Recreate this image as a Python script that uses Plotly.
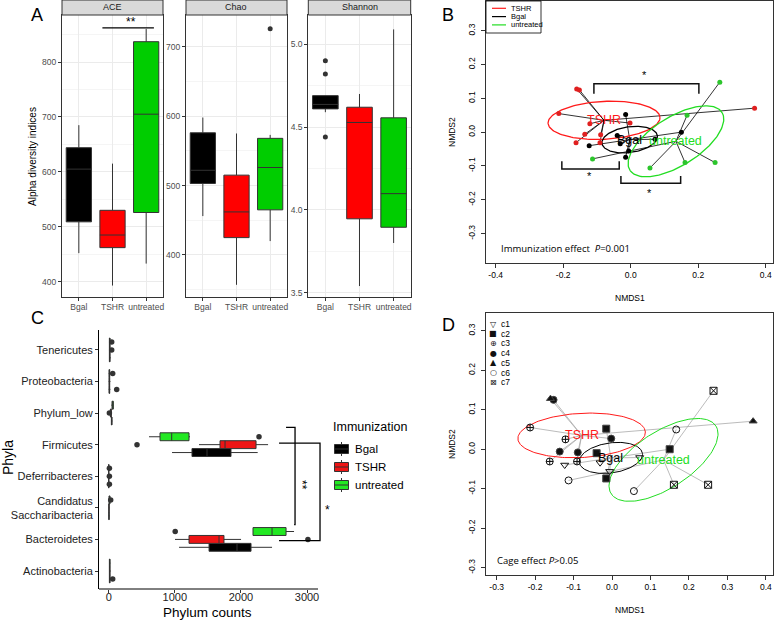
import numpy as np
import plotly.graph_objects as go

W, H = 778, 620
FONT = "Liberation Sans"

groups = ["Bgal", "TSHR", "untreated"]

# ---- panel A: alpha diversity, box stats per group (low whisker, Q1, median, Q3, high whisker)
ace_low = [452, 393, 433]
ace_q1 = [509, 462, 526]
ace_med = [605, 485, 705]
ace_q3 = [644, 530, 837]
ace_high = [685, 615, 860]
ace_out_grp = []
ace_out_val = []
ace_sig = [0.7, 2.23, 862]   # bar from, bar to, height

chao_low = [456, 357, 420]
chao_q1 = [503, 425, 465]
chao_med = [522, 462, 526]
chao_q3 = [576, 515, 568]
chao_high = [598, 575, 573]
chao_out_grp = ["untreated"]
chao_out_val = [726]

shan_low = [4.59, 3.54, 3.80]
shan_q1 = [4.61, 3.946, 3.895]
shan_med = [4.637, 4.528, 4.098]
shan_q3 = [4.69, 4.62, 4.556]
shan_high = [4.69, 4.70, 5.09]
shan_out_grp = ["Bgal", "Bgal", "Bgal"]
shan_out_val = [4.90, 4.82, 4.44]

# ---- panel C: phylum counts (bottom to top)
phyla = ["Actinobacteria", "Bacteroidetes", "Candidatus<br>Saccharibacteria", "Deferribacteres",
         "Firmicutes", "Phylum_low", "Proteobacteria", "Tenericutes"]
# per group: low, q1, median, q3, high for every phylum
c_bgal = [[5, 10, 15, 20, 30], [1064, 1518, 1941, 2153, 2471], [0, 2, 4, 6, 10], [0, 0, 0, 0, 0],
          [958, 1260, 1487, 1850, 2254], [35, 40, 45, 50, 55], [0, 5, 10, 15, 25], [5, 10, 15, 20, 30]]
c_tshr = [[5, 10, 15, 20, 30], [1003, 1215, 1669, 1744, 2002], [0, 2, 4, 6, 10], [0, 0, 0, 0, 0],
          [1366, 1684, 1760, 2229, 2411], [20, 25, 30, 40, 45], [0, 5, 10, 15, 25], [5, 10, 15, 20, 30]]
c_untr = [[5, 10, 15, 20, 25], [2183, 2183, 2471, 2683, 2804], [0, 5, 10, 20, 30], [0, 0, 0, 0, 0],
          [610, 776, 953, 1215, 1230], [40, 50, 60, 70, 75], [0, 5, 10, 15, 25], [5, 10, 15, 20, 30]]
c_out_phylum = ["Actinobacteria", "Bacteroidetes", "Bacteroidetes", "Candidatus<br>Saccharibacteria",
                "Deferribacteres", "Deferribacteres", "Deferribacteres", "Firmicutes", "Firmicutes",
                "Phylum_low", "Proteobacteria", "Proteobacteria", "Tenericutes", "Tenericutes"]
c_out_grp = ["Bgal", "TSHR", "untreated", "untreated", "Bgal", "TSHR", "untreated", "TSHR", "untreated",
             "TSHR", "Bgal", "untreated", "TSHR", "untreated"]
c_out_val = [60, 3014, 1006, 30, 10, 10, 10, 428, 2274, 10, 121, 60, 45, 45]
c_br_x = [[2683, 2819, 2819, 2805], [2577, 3197, 3197, 2577]]
c_br_y = [[4.55, 4.55, 1.47, 1.47], [4.05, 4.05, 0.96, 0.96]]
c_star_txt = ["**", "*"]
c_star_x = [2935, 3307]
c_star_y = [2.73, 1.94]

# ---- panels B and D: NMDS scores
nmds1 = [-0.160, -0.152, -0.213, -0.121, -0.136, -0.162, -0.089, -0.091, -0.002, 0.367,
         -0.015, -0.040, -0.031, -0.123, -0.015, 0.150, -0.006, 0.072,
         0.264, 0.167, -0.113, 0.057, 0.161, 0.250]
nmds2 = [0.128, 0.125, 0.055, 0.025, -0.006, -0.031, -0.008, -0.031, 0.027, 0.071,
         0.052, -0.010, -0.034, -0.040, -0.074, 0.000, -0.056, -0.021,
         0.148, 0.050, -0.079, -0.106, -0.090, -0.090]
immun = ["TSHR"] * 10 + ["Bgal"] * 8 + ["untreated"] * 6
cage = ["c5", "c4", "c3", "c3", "c4", "c3", "c4", "c3", "c4", "c5",
        "c2", "c2", "c1", "c1", "c2", "c2", "c1", "c1",
        "c7", "c6", "c6", "c6", "c7", "c7"]
cent_grp = ["TSHR", "Bgal", "untreated"]
cent_x = [-0.079, -0.003, 0.134]
cent_y = [0.035, -0.022, -0.027]
ell_a = [0.166, 0.083, 0.161]
ell_b = [0.056, 0.038, 0.072]
ell_ang = [3, 8, 32]
b_br_x0 = [-0.109, -0.204, -0.029]
b_br_x1 = [0.202, -0.034, 0.148]
b_br_y = [0.143, -0.109, -0.151]
b_br_tip = [0.114, -0.086, -0.130]
b_star_x = [0.040, -0.121, 0.055]
b_star_y = [0.168, -0.131, -0.181]

cages = ["c1", "c2", "c3", "c4", "c5", "c6", "c7"]
cage_sym = ["triangle-down-open", "square", "circle-cross-open", "circle", "triangle-up",
            "circle-open", "square-x-open"]
cage_glyph = ["\u25BD", "\u25A0", "\u2295", "\u25CF", "\u25B2", "\u25CB", "\u22A0"]

a_fill = {"Bgal": "#000000", "TSHR": "#FF0000", "untreated": "#00CD00"}
c_fill = {"Bgal": "#000000", "TSHR": "#EE1515", "untreated": "#22E822"}
nm_col = {"TSHR": "#E02020", "Bgal": "#000000", "untreated": "#2CC52C"}
ell_col = {"TSHR": "#FF1A1A", "Bgal": "#000000", "untreated": "#22DD22"}


def hx(p):
    return p / W


def hy(p):
    return 1 - p / H


ann = []
shp = []


def pann(text, px, py, size, color="#000000", xa="center", angle=0, family=None):
    f = dict(size=size, color=color)
    if family:
        f["family"] = family
    ann.append(dict(x=hx(px), y=hy(py), xref="paper", yref="paper", text=text, showarrow=False,
                    xanchor=xa, yanchor="middle", textangle=angle, font=f))


fig = go.Figure()
lay = {}

# ---------------- panel A ----------------
facets = [
    ("ACE", [ace_low, ace_q1, ace_med, ace_q3, ace_high], ace_out_grp, ace_out_val,
     (62, 163), [371.6, 885.6], 100, 50, "d"),
    ("Chao", [chao_low, chao_q1, chao_med, chao_q3, chao_high], chao_out_grp, chao_out_val,
     (186, 287), [339, 745.7], 100, 50, "d"),
    ("Shannon", [shan_low, shan_q1, shan_med, shan_q3, shan_high], shan_out_grp, shan_out_val,
     (308.3, 410.7), [3.472, 5.177], 0.5, 0.25, ".1f"),
]
for i, (name, st, og, ov, (x0, x1), yr, dt, mdt, tf) in enumerate(facets):
    n = "" if i == 0 else str(i + 1)
    for k, g in enumerate(groups):
        fig.add_trace(go.Box(x=[g], lowerfence=[st[0][k]], q1=[st[1][k]], median=[st[2][k]],
                             q3=[st[3][k]], upperfence=[st[4][k]], width=0.75, whiskerwidth=0,
                             fillcolor=a_fill[g], line=dict(color="#333333", width=1),
                             boxpoints=False, showlegend=False, hoverinfo="skip",
                             xaxis="x" + n, yaxis="y" + n))
    if og:
        fig.add_trace(go.Scatter(x=og, y=ov, mode="markers", marker=dict(color="#333333", size=5),
                                 showlegend=False, hoverinfo="skip", xaxis="x" + n, yaxis="y" + n))
    lay["xaxis" + n] = dict(domain=[hx(x0), hx(x1)], anchor="y" + n, type="category",
                            categoryorder="array", categoryarray=groups, range=[-0.5, 2.5],
                            showline=True, mirror=True, linecolor="#333333", linewidth=1,
                            ticks="outside", ticklen=3, tickcolor="#333333", automargin=False,
                            tickfont=dict(size=8.5, color="#4D4D4D"), ticklabelstandoff=-2,
                            showgrid=True, gridcolor="#EBEBEB", gridwidth=1)
    lay["yaxis" + n] = dict(domain=[hy(297.3), hy(15)], anchor="x" + n, range=yr, dtick=dt,
                            tickformat=tf,
                            showline=True, mirror=True, linecolor="#333333", linewidth=1,
                            ticks="outside", ticklen=3, tickcolor="#333333", automargin=False,
                            tickfont=dict(size=8.5, color="#4D4D4D"), zeroline=False,
                            showgrid=True, gridcolor="#EBEBEB", gridwidth=1,
                            minor=dict(dtick=mdt, showgrid=True, gridcolor="#F5F5F5", gridwidth=0.6))
    shp.append(dict(type="rect", xref="paper", yref="paper", x0=hx(x0), x1=hx(x1), y0=hy(15), y1=hy(0),
                    fillcolor="#D9D9D9", line=dict(color="#333333", width=1)))
    pann(name, (x0 + x1) / 2, 7.5, 9, "#1A1A1A")

shp.append(dict(type="line", xref="x", yref="y", x0=ace_sig[0], x1=ace_sig[1], y0=ace_sig[2], y1=ace_sig[2],
                line=dict(color="#000000", width=1.3)))
ann.append(dict(x=(ace_sig[0] + ace_sig[1]) / 2 + 0.08, y=ace_sig[2], xref="x", yref="y", text="**",
                showarrow=False, xanchor="center", yanchor="bottom", yshift=-3,
                font=dict(size=12, color="#000000")))
pann("Alpha diversity indices", 33, 157, 10, angle=-90)

# ---------------- panel C ----------------
c_off = {"Bgal": -0.25, "TSHR": 0.0, "untreated": 0.25}
for g, st in zip(groups, [c_bgal, c_tshr, c_untr]):
    pos = [i + c_off[g] for i in range(len(phyla))]
    fig.add_trace(go.Box(y=pos, lowerfence=[s[0] for s in st], q1=[s[1] for s in st],
                         median=[s[2] for s in st], q3=[s[3] for s in st], upperfence=[s[4] for s in st],
                         orientation="h", width=0.25, whiskerwidth=0, fillcolor=c_fill[g],
                         line=dict(color="#333333", width=1), boxpoints=False, name=g,
                         showlegend=False, hoverinfo="skip", xaxis="x5", yaxis="y5"))
fig.add_trace(go.Scatter(x=c_out_val, y=[phyla.index(p) + c_off[g] for p, g in zip(c_out_phylum, c_out_grp)],
                         mode="markers", marker=dict(color="#333333", size=5.5), showlegend=False,
                         hoverinfo="skip", xaxis="x5", yaxis="y5"))
for bx, by in zip(c_br_x, c_br_y):
    fig.add_trace(go.Scatter(x=bx, y=by, mode="lines", line=dict(color="#000000", width=1.3),
                             showlegend=False, hoverinfo="skip", xaxis="x5", yaxis="y5"))
for t_, sx, sy in zip(c_star_txt, c_star_x, c_star_y):
    ann.append(dict(x=sx, y=sy, xref="x5", yref="y5", text=t_, textangle=90 if len(t_) > 1 else 0,
                    showarrow=False, xanchor="center", yanchor="middle",
                    font=dict(size=12, color="#000000")))
lay["xaxis5"] = dict(domain=[hx(99), hx(330)], anchor="y5", range=[-147, 3348],
                     tickvals=[0, 1000, 2000, 3000], showline=False, showgrid=False, zeroline=False,
                     ticks="outside", ticklen=3, tickcolor="#333333", tickwidth=1, automargin=False,
                     tickfont=dict(size=11, color="#222222"), ticklabelstandoff=-5)
lay["yaxis5"] = dict(domain=[hy(589), hy(330)], anchor="x5", range=[-0.57, 7.63],
                     tickvals=list(range(len(phyla))), ticktext=phyla, showline=True,
                     linecolor="#000000", linewidth=1, showgrid=False, zeroline=False,
                     ticks="outside", ticklen=3, tickcolor="#333333", automargin=False,
                     tickfont=dict(size=11, color="#222222"))
shp.append(dict(type="line", xref="paper", yref="paper", x0=hx(99), x1=hx(318), y0=hy(589), y1=hy(589),
                line=dict(color="#000000", width=1)))
pann("Phyla", 8, 458, 14, angle=-90)
pann("Phylum counts", 208, 612, 13.5)

# legend of panel C
pann("Immunization", 331, 427, 12.5, xa="left")
for k, g in enumerate(groups):
    yy = 449 + 18 * k
    shp.append(dict(type="line", xref="paper", yref="paper", x0=hx(341.5), x1=hx(341.5),
                    y0=hy(yy - 7), y1=hy(yy + 7), line=dict(color="#333333", width=1)))
    shp.append(dict(type="rect", xref="paper", yref="paper", x0=hx(334.5), x1=hx(348.5),
                    y0=hy(yy + 4.5), y1=hy(yy - 4.5), fillcolor=c_fill[g], line=dict(color="#333333", width=1)))
    shp.append(dict(type="line", xref="paper", yref="paper", x0=hx(334.5), x1=hx(348.5),
                    y0=hy(yy), y1=hy(yy), line=dict(color="#333333", width=1)))
    pann(g, 353, yy, 11.5, xa="left")

# ---------------- panels B and D ----------------
t = np.linspace(0, 2 * np.pi, 160)
nmds_panels = [("4", [486, 773], [1, 263], [-0.4287, 0.4216], [-0.387, 0.388], [-0.4, -0.2, 0, 0.2, 0.4]),
               ("6", [486, 773], [313, 575], [-0.3277, 0.4187], [-0.3185, 0.345],
                [-0.3, -0.2, -0.1, 0, 0.1, 0.2, 0.3, 0.4])]
for n, (dx0, dx1), (dy0, dy1), xr, yr, xt in nmds_panels:
    xa, ya = "x" + n, "y" + n
    sx, sy = [], []
    for j in range(len(nmds1)):
        c = cent_grp.index(immun[j])
        sx += [nmds1[j], cent_x[c], None]
        sy += [nmds2[j], cent_y[c], None]
    fig.add_trace(go.Scatter(x=sx, y=sy, mode="lines",
                             line=dict(color="#000000" if n == "4" else "#AAAAAA", width=0.8),
                             showlegend=False, hoverinfo="skip", xaxis=xa, yaxis=ya))
    for c, g in enumerate(cent_grp):
        ang = np.radians(ell_ang[c])
        ex = cent_x[c] + ell_a[c] * np.cos(t) * np.cos(ang) - ell_b[c] * np.sin(t) * np.sin(ang)
        ey = cent_y[c] + ell_a[c] * np.cos(t) * np.sin(ang) + ell_b[c] * np.sin(t) * np.cos(ang)
        fig.add_trace(go.Scatter(x=ex, y=ey, mode="lines",
                                 line=dict(color=ell_col[g], width=1.3 if n == "4" else 1),
                                 showlegend=False, hoverinfo="skip", xaxis=xa, yaxis=ya))
    if n == "4":
        for g in cent_grp:
            idx = [j for j in range(len(nmds1)) if immun[j] == g]
            fig.add_trace(go.Scatter(x=[nmds1[j] for j in idx], y=[nmds2[j] for j in idx], mode="markers",
                                     marker=dict(color=nm_col[g], size=5), showlegend=False,
                                     hoverinfo="skip", xaxis=xa, yaxis=ya))
        bx, by = [], []
        for k in range(len(b_br_x0)):
            bx += [b_br_x0[k], b_br_x0[k], b_br_x1[k], b_br_x1[k], None]
            by += [b_br_tip[k], b_br_y[k], b_br_y[k], b_br_tip[k], None]
        fig.add_trace(go.Scatter(x=bx, y=by, mode="lines", line=dict(color="#111111", width=1.5),
                                 showlegend=False, hoverinfo="skip", xaxis=xa, yaxis=ya))
        for k in range(len(b_star_x)):
            ann.append(dict(x=b_star_x[k], y=b_star_y[k], xref=xa, yref=ya, text="*", showarrow=False,
                            xanchor="center", yanchor="middle", font=dict(size=11, color="#000000")))
    else:
        for cg, sym in zip(cages, cage_sym):
            idx = [j for j in range(len(nmds1)) if cage[j] == cg]
            fig.add_trace(go.Scatter(x=[nmds1[j] for j in idx], y=[nmds2[j] for j in idx], mode="markers",
                                     marker=dict(color="#111111", size=7, symbol=sym, line=dict(width=1)),
                                     showlegend=False, hoverinfo="skip", xaxis=xa, yaxis=ya))
    for c, g in enumerate(cent_grp):
        ann.append(dict(x=cent_x[c], y=cent_y[c], xref=xa, yref=ya, text=g, showarrow=False,
                        xanchor="center", yanchor="middle",
                        font=dict(size=12.5, color=ell_col[g] if g != "untreated" else "#22DD22")))
    lay["xaxis" + n] = dict(domain=[hx(dx0), hx(dx1)], anchor=ya, range=xr, tickvals=xt,
                            ticktext=["%.1f" % v for v in xt], showline=True, mirror=True,
                            linecolor="#333333", linewidth=1, showgrid=False, zeroline=False,
                            ticks="outside", ticklen=4, tickcolor="#333333", automargin=False,
                            tickfont=dict(size=8.5, color="#000000"))
    yt = [-0.3, -0.2, -0.1, 0, 0.1, 0.2, 0.3]
    lay["yaxis" + n] = dict(domain=[hy(dy1), hy(dy0)], anchor=xa, range=yr, tickvals=yt,
                            ticktext=["%.1f" % v for v in yt], tickangle=-90, showline=True, mirror=True,
                            linecolor="#333333", linewidth=1, showgrid=False, zeroline=False,
                            ticks="outside", ticklen=4, tickcolor="#333333", automargin=False,
                            tickfont=dict(size=8.5, color="#000000"), ticklabelstandoff=3)
    pann("NMDS1", 630, dy1 + 35, 8.5)
    pann("NMDS2", 452, (dy0 + dy1) / 2, 8.5, angle=-90)

pann("Immunization effect  <i>P</i>=0.001", 499, 248, 9.5, xa="left", family="Open Sans")
pann("Cage effect <i>P</i>&gt;0.05", 495, 560, 9.5, xa="left", family="Open Sans")

# legend of panel B
leg_b = ["TSHR", "Bgal", "untreated"]
shp.append(dict(type="rect", xref="paper", yref="paper", x0=hx(486), x1=hx(541), y0=hy(33), y1=hy(1),
                line=dict(color="#000000", width=0.8)))
for k, g in enumerate(leg_b):
    yy = 8.3 + 8.3 * k
    shp.append(dict(type="line", xref="paper", yref="paper", x0=hx(492), x1=hx(506), y0=hy(yy), y1=hy(yy),
                    line=dict(color=ell_col[g], width=1.2)))
    pann(g, 509, yy, 7.5, xa="left")

# legend of panel D
for k, (cg, gl) in enumerate(zip(cages, cage_glyph)):
    yy = 324 + 9.7 * k
    pann(gl, 493, yy, 8, "#111111", family="DejaVu Sans")
    pann(cg, 499, yy, 8.5, xa="left")

# panel letters
for txt, lx, ly in [("A", 37, 15), ("B", 448, 15), ("C", 37, 318), ("D", 448, 325)]:
    pann(txt, lx, ly, 18)

fig.update_layout(
    width=W, height=H, margin=dict(l=0, r=0, t=0, b=0, autoexpand=False),
    paper_bgcolor="white", plot_bgcolor="white",
    font=dict(family=FONT, color="#000000"),
    showlegend=False,
    annotations=ann, shapes=shp, **lay)

fig.write_html("out.html", config={"displayModeBar": False},
               post_script="document.body.style.margin='0';")
